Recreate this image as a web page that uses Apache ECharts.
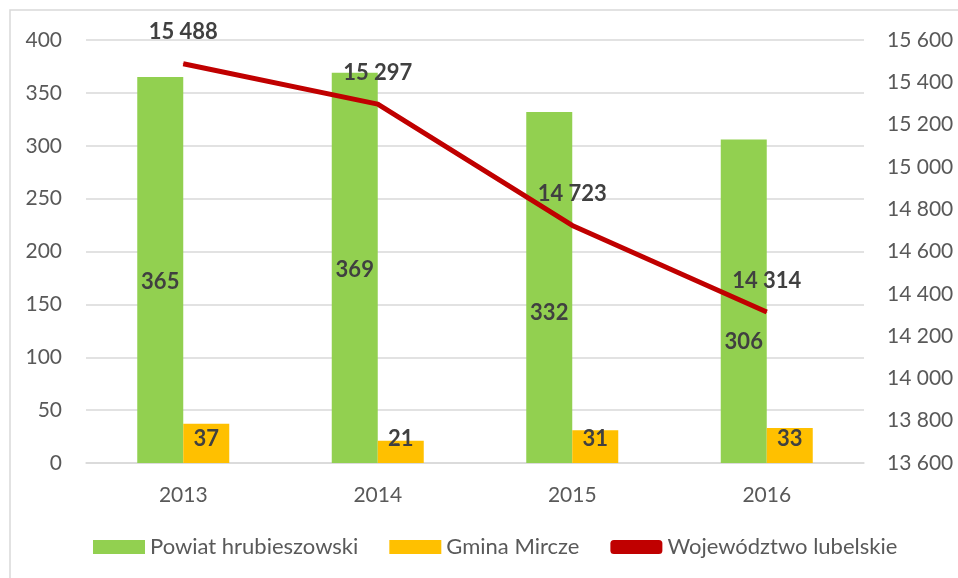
<!DOCTYPE html>
<html>
<head>
<meta charset="utf-8">
<script src="https://cdn.jsdelivr.net/npm/echarts@6/dist/echarts.min.js"></script>
<style>
  html, body { margin: 0; padding: 0; background: #fff; }
  #chart { width: 958px; height: 578px; }
</style>
</head>
<body>
<div id="chart"></div>
<script>
// dane
const years = ['2013', '2014', '2015', '2016'];
const powiat = [365, 369, 332, 306];
const gmina = [37, 21, 31, 33];
const wojewodztwo = [15488, 15297, 14723, 14314];

// przesunięcia etykiet słupków (jak w oryginale, ręcznie ustawione)
const powiatLabelShift = [12, 2, 25, 41];

const fmt = v => String(v).replace(/\B(?=(\d{3})+(?!\d))/g, ' ');
const font = 'Lato, "Open Sans", sans-serif';

const chart = echarts.init(document.getElementById('chart'));
const option = {
  animation: false,
  textStyle: { fontFamily: font },
  graphic: [{
    type: 'rect',
    shape: { x: 10, y: 10, width: 970, height: 600 },
    style: { fill: 'none', stroke: '#d9d9d9', lineWidth: 1.5 },
    silent: true
  }],
  grid: { left: 86, right: 94, top: 40, bottom: 115 },
  legend: {
    bottom: 15,
    left: 88,
    itemWidth: 52,
    itemHeight: 14,
    itemGap: 31,
    textStyle: { fontSize: 22, color: '#595959', fontFamily: font },
    data: [
      { name: 'Powiat hrubieszowski', icon: 'rect' },
      { name: 'Gmina Mircze', icon: 'rect' },
      { name: 'Województwo lubelskie', icon: 'roundRect' }
    ]
  },
  xAxis: {
    type: 'category',
    data: years,
    axisTick: { show: false },
    axisLine: { lineStyle: { color: '#d9d9d9', width: 1.5 } },
    axisLabel: { color: '#595959', fontSize: 21, margin: 22 }
  },
  yAxis: [{
    type: 'value',
    min: 0, max: 400, interval: 50,
    axisLabel: { color: '#595959', fontSize: 21, margin: 24 },
    splitLine: { lineStyle: { color: '#d9d9d9', width: 1.5 } }
  }, {
    type: 'value',
    min: 13600, max: 15600, interval: 200,
    axisLabel: { color: '#595959', fontSize: 21, margin: 23, formatter: fmt },
    splitLine: { show: false }
  }],
  series: [{
    name: 'Powiat hrubieszowski',
    type: 'bar',
    data: powiat.map((v, i) => ({ value: v, label: { offset: [0, powiatLabelShift[i]] } })),
    barWidth: 46,
    barGap: '0%',
    itemStyle: { color: '#92d050' },
    label: {
      show: true, position: 'inside',
      fontSize: 22, fontWeight: 'bold', color: '#404040'
    }
  }, {
    name: 'Gmina Mircze',
    type: 'bar',
    data: gmina,
    barWidth: 46,
    itemStyle: { color: '#ffc000' },
    label: {
      show: true, position: 'insideBottom', distance: 13,
      fontSize: 22, fontWeight: 'bold', color: '#404040'
    }
  }, {
    name: 'Województwo lubelskie',
    type: 'line',
    yAxisIndex: 1,
    data: wojewodztwo,
    symbol: 'circle',
    symbolSize: 1,
    showSymbol: true,
    lineStyle: { color: '#c00000', width: 5 },
    itemStyle: { color: '#c00000' },
    label: {
      show: true, position: 'top', distance: 20,
      fontSize: 22, fontWeight: 'bold', color: '#404040',
      formatter: p => fmt(p.value)
    }
  }]
};
chart.setOption(option);
</script>
</body>
</html>
